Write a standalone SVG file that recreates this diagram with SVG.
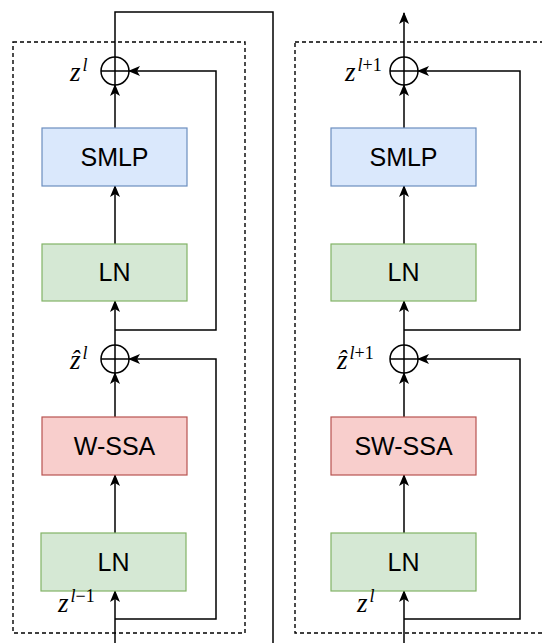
<svg xmlns="http://www.w3.org/2000/svg" width="542" height="643" viewBox="0 0 542 643">
  <style>
    .frame { fill: none; stroke: #000; stroke-width: 1.4; stroke-dasharray: 4 3; }
    .box-blue { fill: #dae8fc; stroke: #6c8ebf; stroke-width: 1.2; }
    .box-green { fill: #d5e8d4; stroke: #82b366; stroke-width: 1.2; }
    .box-red { fill: #f8cecc; stroke: #b85450; stroke-width: 1.2; }
    .label { font-family: "Liberation Sans", Arial, sans-serif; font-size: 25px; fill: #000; text-anchor: middle; }
    .wire { fill: none; stroke: #000; stroke-width: 1.5; }
    .arrow { fill: none; stroke: #000; stroke-width: 1.5; marker-end: url(#head); }
    .sum { fill: none; stroke: #000; stroke-width: 1.5; }
    .math { font-family: "Liberation Serif", "Times New Roman", serif; font-style: italic; font-size: 27px; fill: #000; }
    .sup { font-style: italic; font-size: 18px; }
    .supn { font-style: normal; font-size: 18px; }
  </style>
  <defs>
    <marker id="head" markerUnits="userSpaceOnUse" markerWidth="12" markerHeight="12" viewBox="0 0 12 12" refX="11" refY="6" orient="auto">
      <path d="M0,1 L12,6 L0,11 L3,6 Z" fill="#000" stroke="none"/>
    </marker>
  </defs>

  <!-- block frames -->
  <g id="frame-left"><rect class="frame" x="13" y="42" width="232" height="591"/></g>
  <g id="frame-right"><rect class="frame" x="295" y="42" width="262" height="591"/></g>

  <!-- connectors -->
  <g id="connectors">
    <!-- left block main path -->
    <path class="arrow" d="M115,643 V591"/>
    <path class="arrow" d="M115,533 V475"/>
    <path class="arrow" d="M115,417 V373"/>
    <path class="arrow" d="M115,345 V301"/>
    <path class="arrow" d="M115,244 V186"/>
    <path class="arrow" d="M115,128 V85"/>
    <!-- left block residual paths -->
    <path class="arrow" d="M115,619 H216 V359 H129"/>
    <path class="arrow" d="M115,330 H216 V71 H129"/>
    <!-- left block output into right block -->
    <path class="wire" d="M115,57 V12 H273 V643"/>

    <!-- right block main path -->
    <path class="arrow" d="M404,643 V591"/>
    <path class="arrow" d="M404,533 V475"/>
    <path class="arrow" d="M404,417 V373"/>
    <path class="arrow" d="M404,345 V301"/>
    <path class="arrow" d="M404,244 V186"/>
    <path class="arrow" d="M404,128 V85"/>
    <!-- right block residual paths -->
    <path class="arrow" d="M404,619 H520 V359 H418"/>
    <path class="arrow" d="M404,330 H520 V71 H418"/>
    <!-- right block output -->
    <path class="arrow" d="M404,57 V13"/>
  </g>

  <!-- left block nodes -->
  <g id="sum-left-top">
    <circle class="sum" cx="115" cy="71" r="14"/>
    <path class="sum" d="M101,71 H129 M115,57 V85"/>
  </g>
  <g id="smlp-left">
    <rect class="box-blue" x="42" y="128" width="145" height="58"/>
    <text class="label" x="114.5" y="166">SMLP</text>
  </g>
  <g id="ln-left-top">
    <rect class="box-green" x="42" y="244" width="145" height="57"/>
    <text class="label" x="114.5" y="281">LN</text>
  </g>
  <g id="sum-left-mid">
    <circle class="sum" cx="115" cy="359" r="14"/>
    <path class="sum" d="M101,359 H129 M115,345 V373"/>
  </g>
  <g id="wssa-left">
    <rect class="box-red" x="42" y="417" width="145" height="58"/>
    <text class="label" x="114.5" y="455">W-SSA</text>
  </g>
  <g id="ln-left-bottom">
    <rect class="box-green" x="41" y="533" width="145" height="58"/>
    <text class="label" x="113.5" y="571">LN</text>
  </g>

  <!-- right block nodes -->
  <g id="sum-right-top">
    <circle class="sum" cx="404" cy="71" r="14"/>
    <path class="sum" d="M390,71 H418 M404,57 V85"/>
  </g>
  <g id="smlp-right">
    <rect class="box-blue" x="331" y="128" width="145" height="58"/>
    <text class="label" x="403.5" y="166">SMLP</text>
  </g>
  <g id="ln-right-top">
    <rect class="box-green" x="331" y="244" width="145" height="57"/>
    <text class="label" x="403.5" y="281">LN</text>
  </g>
  <g id="sum-right-mid">
    <circle class="sum" cx="404" cy="359" r="14"/>
    <path class="sum" d="M390,359 H418 M404,345 V373"/>
  </g>
  <g id="swssa-right">
    <rect class="box-red" x="331" y="417" width="145" height="58"/>
    <text class="label" x="403.5" y="455">SW-SSA</text>
  </g>
  <g id="ln-right-bottom">
    <rect class="box-green" x="331" y="533" width="145" height="58"/>
    <text class="label" x="403.5" y="571">LN</text>
  </g>

  <!-- tensor labels -->
  <g id="labels">
    <text class="math" x="70" y="81">z<tspan class="sup" dx="2" dy="-10">l</tspan></text>
    <text class="math" x="345" y="81">z<tspan class="sup" dx="2" dy="-10">l</tspan><tspan class="supn">+1</tspan></text>
    <text class="math" x="70" y="369">ẑ<tspan class="sup" dx="2" dy="-10">l</tspan></text>
    <text class="math" x="337" y="369">ẑ<tspan class="sup" dx="2" dy="-10">l</tspan><tspan class="supn">+1</tspan></text>
    <text class="math" x="58" y="612">z<tspan class="sup" dx="2" dy="-10">l</tspan><tspan class="supn">−1</tspan></text>
    <text class="math" x="357" y="612">z<tspan class="sup" dx="2" dy="-10">l</tspan></text>
  </g>
</svg>
